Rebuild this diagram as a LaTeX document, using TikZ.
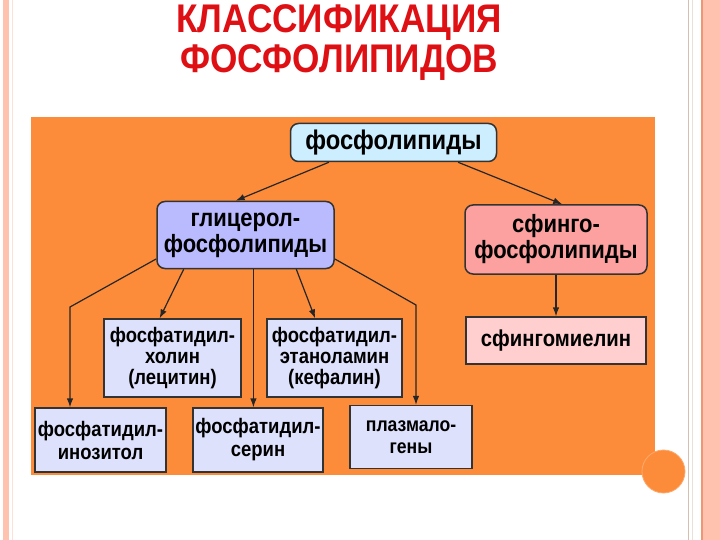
\documentclass[tikz,border=0pt]{standalone}
\usepackage{fontspec}
\setmainfont{Liberation Sans}[FakeStretch=0.88]
\usetikzlibrary{
  arrows.meta,
  calc,
  positioning,
}
\definecolor{slideorange}{RGB}{252,140,58}
\definecolor{titlered}{RGB}{222,16,20}
\definecolor{stripe}{RGB}{255,194,174}
\definecolor{stripedark}{RGB}{238,150,118}
\definecolor{stripetan}{RGB}{214,190,176}
\definecolor{topblue}{RGB}{204,238,255}
\definecolor{glycblue}{RGB}{186,186,255}
\definecolor{sphpink}{RGB}{252,160,160}
\definecolor{sphlight}{RGB}{255,206,206}
\definecolor{subblue}{RGB}{222,225,252}
\tikzstyle{arrow} = [
  -{Latex[length=9pt,width=6.5pt]},
  line width=1.2pt,
  draw=black!85,
]
\tikzstyle{rbox} = [
  rectangle,
  rounded corners=8pt,
  draw=black!80,
  line width=1.5pt,
  align=center,
  inner sep=0pt,
]
\tikzstyle{sbox} = [
  rectangle,
  draw=black!80,
  line width=1.2pt,
  align=center,
  inner sep=0pt,
]

\begin{document}
\begin{tikzpicture}[x=1pt,y=-1pt]
  \useasboundingbox (0,0) rectangle (720,540);
  \fill[white] (0,0) rectangle (720,540);
  % slide frame
  \fill[stripe] (3,0) rectangle (9,540);
  \draw[stripe!50,line width=0.6pt] (12,0) -- (12,540);
  \draw[stripetan,line width=0.8pt] (688,0) -- (688,540);
  \draw[stripetan!50,line width=0.6pt] (692,0) -- (692,540);
  \fill[stripe] (703,0) rectangle (720,540);
  \draw[stripedark,line width=1.2pt] (702,0) -- (702,540);
  % orange panel
  \fill[slideorange] (31,117) rectangle (655,475);
  \filldraw[fill=slideorange,draw=slideorange!75!white,line width=0.8pt] (663.5,471.5) circle (21.5pt);

  \node[align=center,text=titlered,font=\fontsize{40}{40}\selectfont\bfseries] (title) at (339,43) {КЛАССИФИКАЦИЯ\\ФОСФОЛИПИДОВ};

  \node[rbox,fill=topblue,minimum width=206,minimum height=38,font=\fontsize{27}{28}\selectfont\bfseries] (phospho) at (393.5,142.5) {фосфолипиды};
  \node[rbox,fill=glycblue,minimum width=177,minimum height=67,font=\fontsize{25}{26}\selectfont\bfseries] (glyc) at (245.5,235) {глицерол-\\фосфолипиды};
  \node[rbox,fill=sphpink,minimum width=182,minimum height=69,font=\fontsize{25}{26}\selectfont\bfseries] (sphingo) at (556,239.5) {сфинго-\\фосфолипиды};
  \node[sbox,fill=sphlight,minimum width=180,minimum height=47,font=\fontsize{23}{24}\selectfont\bfseries] (sphmyel) at (556,340.5) {сфингомиелин};

  \node[sbox,fill=subblue,minimum width=137,minimum height=78,font=\fontsize{21}{21}\selectfont\bfseries] (lecit) at (172.5,358) {фосфатидил-\\холин\\(лецитин)};
  \node[sbox,fill=subblue,minimum width=135,minimum height=78,font=\fontsize{21}{21}\selectfont\bfseries] (kefal) at (334.5,358) {фосфатидил-\\этаноламин\\(кефалин)};
  \node[sbox,fill=subblue,minimum width=131,minimum height=64,font=\fontsize{21}{23}\selectfont\bfseries] (inosit) at (100.5,440) {фосфатидил-\\инозитол};
  \node[sbox,fill=subblue,minimum width=130,minimum height=64,font=\fontsize{21}{23}\selectfont\bfseries] (serin) at (258,440) {фосфатидил-\\серин};
  \node[sbox,fill=subblue,minimum width=122,minimum height=63,font=\fontsize{20}{22}\selectfont\bfseries] (plazm) at (411,437) {плазмало-\\гены};

  \coordinate (kinkL) at (70,307);
  \coordinate (kinkR) at (416,305);

  \draw[arrow] (phospho.197) -- (glyc.106);
  \draw[arrow] (phospho.343) -- (sphingo.80);
  \draw[arrow] (sphingo.south) -- (sphmyel.north);
  \draw[arrow] (glyc.209) -- (lecit.108);
  \draw[arrow] (glyc.326) -- (kefal.116);
  \draw[arrow] (glyc.283) -- (glyc.283 |- serin.north);
  \draw[arrow] (glyc.195) -- (kinkL) -- (kinkL |- inosit.north);
  \draw[arrow] (glyc.345) -- (kinkR) -- (kinkR |- plazm.north);
\end{tikzpicture}
\end{document}
